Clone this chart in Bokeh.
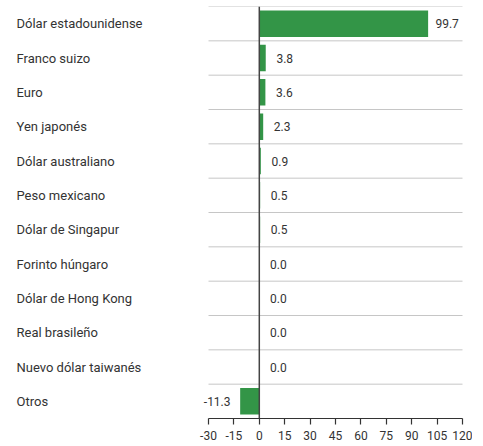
from bokeh.plotting import figure
from bokeh.models import ColumnDataSource, FactorRange, Range1d, FixedTicker, Span, PrintfTickFormatter
from bokeh.embed import file_html
from bokeh.resources import INLINE
from bokeh.core.properties import value

categories = ["Dólar estadounidense", "Franco suizo", "Euro", "Yen japonés",
              "Dólar australiano", "Peso mexicano", "Dólar de Singapur",
              "Forinto húngaro", "Dólar de Hong Kong", "Real brasileño",
              "Nuevo dólar taiwanés", "Otros"]
values = [99.7, 3.8, 3.6, 2.3, 0.9, 0.5, 0.5, 0.0, 0.0, 0.0, 0.0, -11.3]
value_labels = ["99.7", "3.8", "3.6", "2.3", "0.9", "0.5", "0.5", "0.0", "0.0", "0.0", "0.0", "-11.3"]
tick_values = [-30, -15, 0, 15, 30, 45, 60, 75, 90, 105, 120]

FONT = "Roboto"

# geometry of the frame (screen px)
frame_w = 472
frame_h = 412
axis_left_px = 208   # position of -30 from frame left
axis_right_px = 462  # position of 120 from frame left
k = (axis_right_px - axis_left_px) / (tick_values[-1] - tick_values[0])
x_start = tick_values[0] - axis_left_px / k
x_end = tick_values[-1] + (frame_w - axis_right_px) / k

p = figure(frame_width=frame_w, frame_height=frame_h,
           x_range=Range1d(x_start, x_end),
           y_range=FactorRange(factors=list(reversed(categories)), range_padding=0),
           output_backend="svg", toolbar_location=None,
           min_border_left=0, min_border_right=0, min_border_top=6, min_border_bottom=0)
p.outline_line_color = None
p.xgrid.visible = False
p.ygrid.visible = False
p.yaxis.visible = False

# row separators
sep = ColumnDataSource(dict(
    x0=[tick_values[0]] * len(categories),
    x1=[tick_values[-1]] * len(categories),
    y=[(c, 0.5) for c in categories],
))
p.segment(x0="x0", x1="x1", y0="y", y1="y", source=sep, line_color="#c6c6c6", line_width=1)

src = ColumnDataSource(dict(cat=categories, val=values, lab=value_labels))
p.hbar(y="cat", left=0, right="val", height=0.77, source=src,
       fill_color="#339547", line_color=None)

pos_idx = [i for i, v in enumerate(values) if v >= 0]
neg_idx = [i for i, v in enumerate(values) if v < 0]
pos_src = ColumnDataSource(dict(cat=[categories[i] for i in pos_idx],
                                val=[values[i] for i in pos_idx],
                                lab=[value_labels[i] for i in pos_idx]))
neg_src = ColumnDataSource(dict(cat=[categories[i] for i in neg_idx],
                                val=[values[i] for i in neg_idx],
                                lab=[value_labels[i] for i in neg_idx]))
p.text(x="val", y="cat", text="lab", source=pos_src, x_offset=19,
       text_align="center", text_baseline="middle", text_font=value(FONT),
       text_font_size="12px", text_color="#333333")
p.text(x="val", y="cat", text="lab", source=neg_src, x_offset=-23,
       text_align="center", text_baseline="middle", text_font=value(FONT),
       text_font_size="12px", text_color="#333333")

# category names at the left
name_src = ColumnDataSource(dict(cat=categories, x=[x_start] * len(categories)))
p.text(x="x", y="cat", text="cat", source=name_src, x_offset=16,
       text_align="left", text_baseline="middle", text_font=value(FONT),
       text_font_size="13px", text_color="#333333")

p.add_layout(Span(location=0, dimension="height", line_color="#444444", line_width=1.5))

ax = p.xaxis[0]
ax.ticker = FixedTicker(ticks=tick_values)
ax.formatter = PrintfTickFormatter(format="%d")
ax.bounds = (tick_values[0], tick_values[-1])
ax.axis_line_color = "#333333"
ax.axis_line_width = 1.2
ax.major_tick_line_color = "#333333"
ax.major_tick_line_width = 1.2
ax.major_tick_in = 0
ax.major_tick_out = 6
ax.minor_tick_line_color = None
ax.major_label_text_font = FONT
ax.major_label_text_font_size = "12px"
ax.major_label_text_color = "#333333"
ax.major_label_standoff = 6

open("out.html", "w").write(file_html(p, INLINE))
